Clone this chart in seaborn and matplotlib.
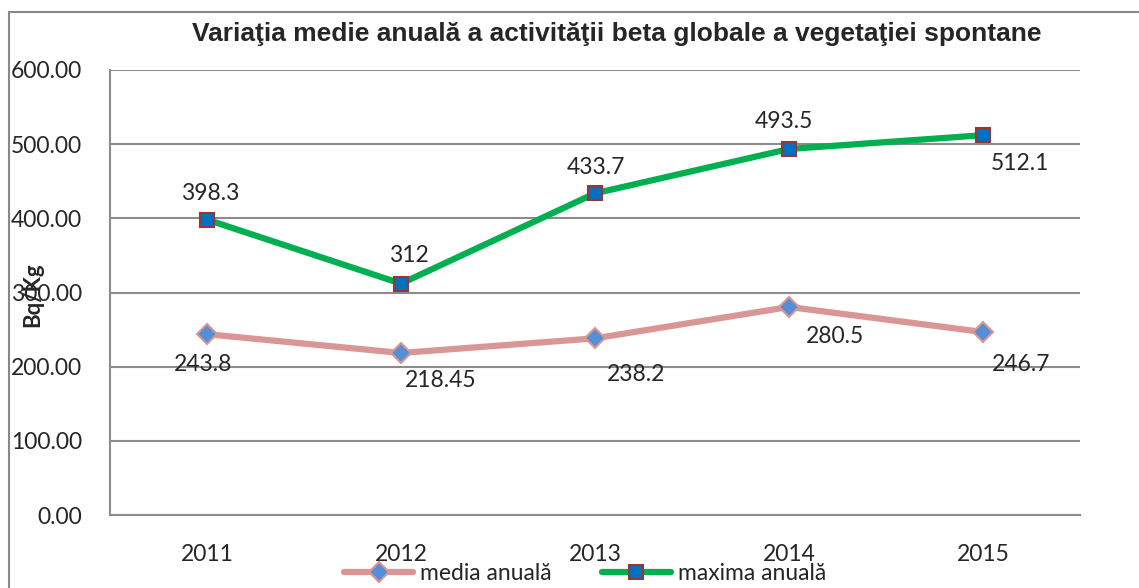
import matplotlib
matplotlib.use("Agg")
import matplotlib.pyplot as plt
import seaborn as sns
import pandas as pd
import numpy as np
from matplotlib.patches import Rectangle
from matplotlib.lines import Line2D

years = ["2011", "2012", "2013", "2014", "2015"]
media = [243.8, 218.45, 238.2, 280.5, 246.7]
maxima = [398.3, 312, 433.7, 493.5, 512.1]
media_labels = ["243.8", "218.45", "238.2", "280.5", "246.7"]
maxima_labels = ["398.3", "312", "433.7", "493.5", "512.1"]
yticks = [0, 100, 200, 300, 400, 500, 600]

title = "Variaţia medie anuală a activităţii beta globale a vegetaţiei spontane"
ylabel = "Bq/Kg"
name_media = "media anuală"
name_max = "maxima anuală"

sns.set_style("white")
plt.rcParams['font.family'] = ['Lato', 'DejaVu Sans']

W, H = 1139, 588
fig = plt.figure(figsize=(W / 100, H / 100), dpi=100)
ax = fig.add_axes([110 / W, 1 - 515 / H, (1080 - 110) / W, (515 - 70) / H])

pos = np.arange(len(years))
df = pd.DataFrame({"pos": pos, "media": media, "maxima": maxima})

c_media = "#D99694"
c_max = "#00B050"
FS = 16.5

sns.lineplot(data=df, x="pos", y="media", ax=ax, color=c_media, linewidth=4.5,
             marker="D", markersize=10, markerfacecolor="#558ED5",
             markeredgecolor=c_media, markeredgewidth=1.5, zorder=3)
sns.lineplot(data=df, x="pos", y="maxima", ax=ax, color=c_max, linewidth=4.5,
             marker="s", markersize=10.5, markerfacecolor="#0070C0",
             markeredgecolor="#953735", markeredgewidth=1.5, zorder=4)

ax.set_xlim(-0.5, len(years) - 0.5)
ax.set_ylim(0, 600)
ax.set_yticks(yticks)
ax.set_yticklabels([f"{v:.2f}" for v in yticks], fontsize=FS)
ax.set_xticks(pos)
ax.set_xticklabels(years, fontsize=FS)
ax.set_xticks(np.arange(-0.5, len(years), 1.0), minor=True)
ax.tick_params(axis="x", which="major", length=0, pad=21)
ax.tick_params(axis="x", which="minor", length=6, width=1.5, color="#888888", direction="out")
ax.tick_params(axis="y", length=0, pad=20)
ax.set_xlabel("")
ax.set_ylabel("")
ax.yaxis.grid(True, color="#8c8c8c", linewidth=1.5)
ax.set_axisbelow(True)
for s in ["top", "right"]:
    ax.spines[s].set_visible(False)
for s in ["left", "bottom"]:
    ax.spines[s].set_color("#8c8c8c")
    ax.spines[s].set_linewidth(1.5)

# data labels (pixel offsets)
max_off = [(3, 26), (8, 28), (1, 26), (-5, 27), (37, -28)]
med_off = [(-4, -30), (40, -28), (41, -36), (46, -30), (38, -32)]
for i in range(len(years)):
    ax.annotate(maxima_labels[i], (pos[i], maxima[i]), xytext=max_off[i],
                textcoords="offset pixels", ha="center", va="center", fontsize=FS)
    ax.annotate(media_labels[i], (pos[i], media[i]), xytext=med_off[i],
                textcoords="offset pixels", ha="center", va="center", fontsize=FS)

fig.text(617 / W, 1 - 34 / H, title, ha="center", va="center", fontsize=19,
         fontweight="bold", family=["Liberation Sans", "DejaVu Sans"])
fig.text(33 / W, 1 - 295 / H, ylabel, ha="center", va="center", rotation=90,
         fontsize=16, fontweight="bold")

# outer border
fig.add_artist(Rectangle((9 / W, -0.05), 1.2, 1 - 12 / H + 0.05, transform=fig.transFigure,
                         fill=False, edgecolor="#888888", linewidth=1.5, clip_on=False))

handles = [
    Line2D([], [], color=c_media, linewidth=4.5, marker="D", markersize=10,
           markerfacecolor="#558ED5", markeredgecolor=c_media, markeredgewidth=1.5),
    Line2D([], [], color=c_max, linewidth=4.5, marker="s", markersize=10.5,
           markerfacecolor="#0070C0", markeredgecolor="#953735", markeredgewidth=1.5),
]
fig.legend(handles, [name_media, name_max], loc="center", bbox_to_anchor=(585 / W, 1 - 574 / H),
           ncol=2, frameon=False, fontsize=FS, handlelength=3.0, handletextpad=0.3,
           columnspacing=2.2, borderpad=0)

fig.savefig("out.png", dpi=100)
